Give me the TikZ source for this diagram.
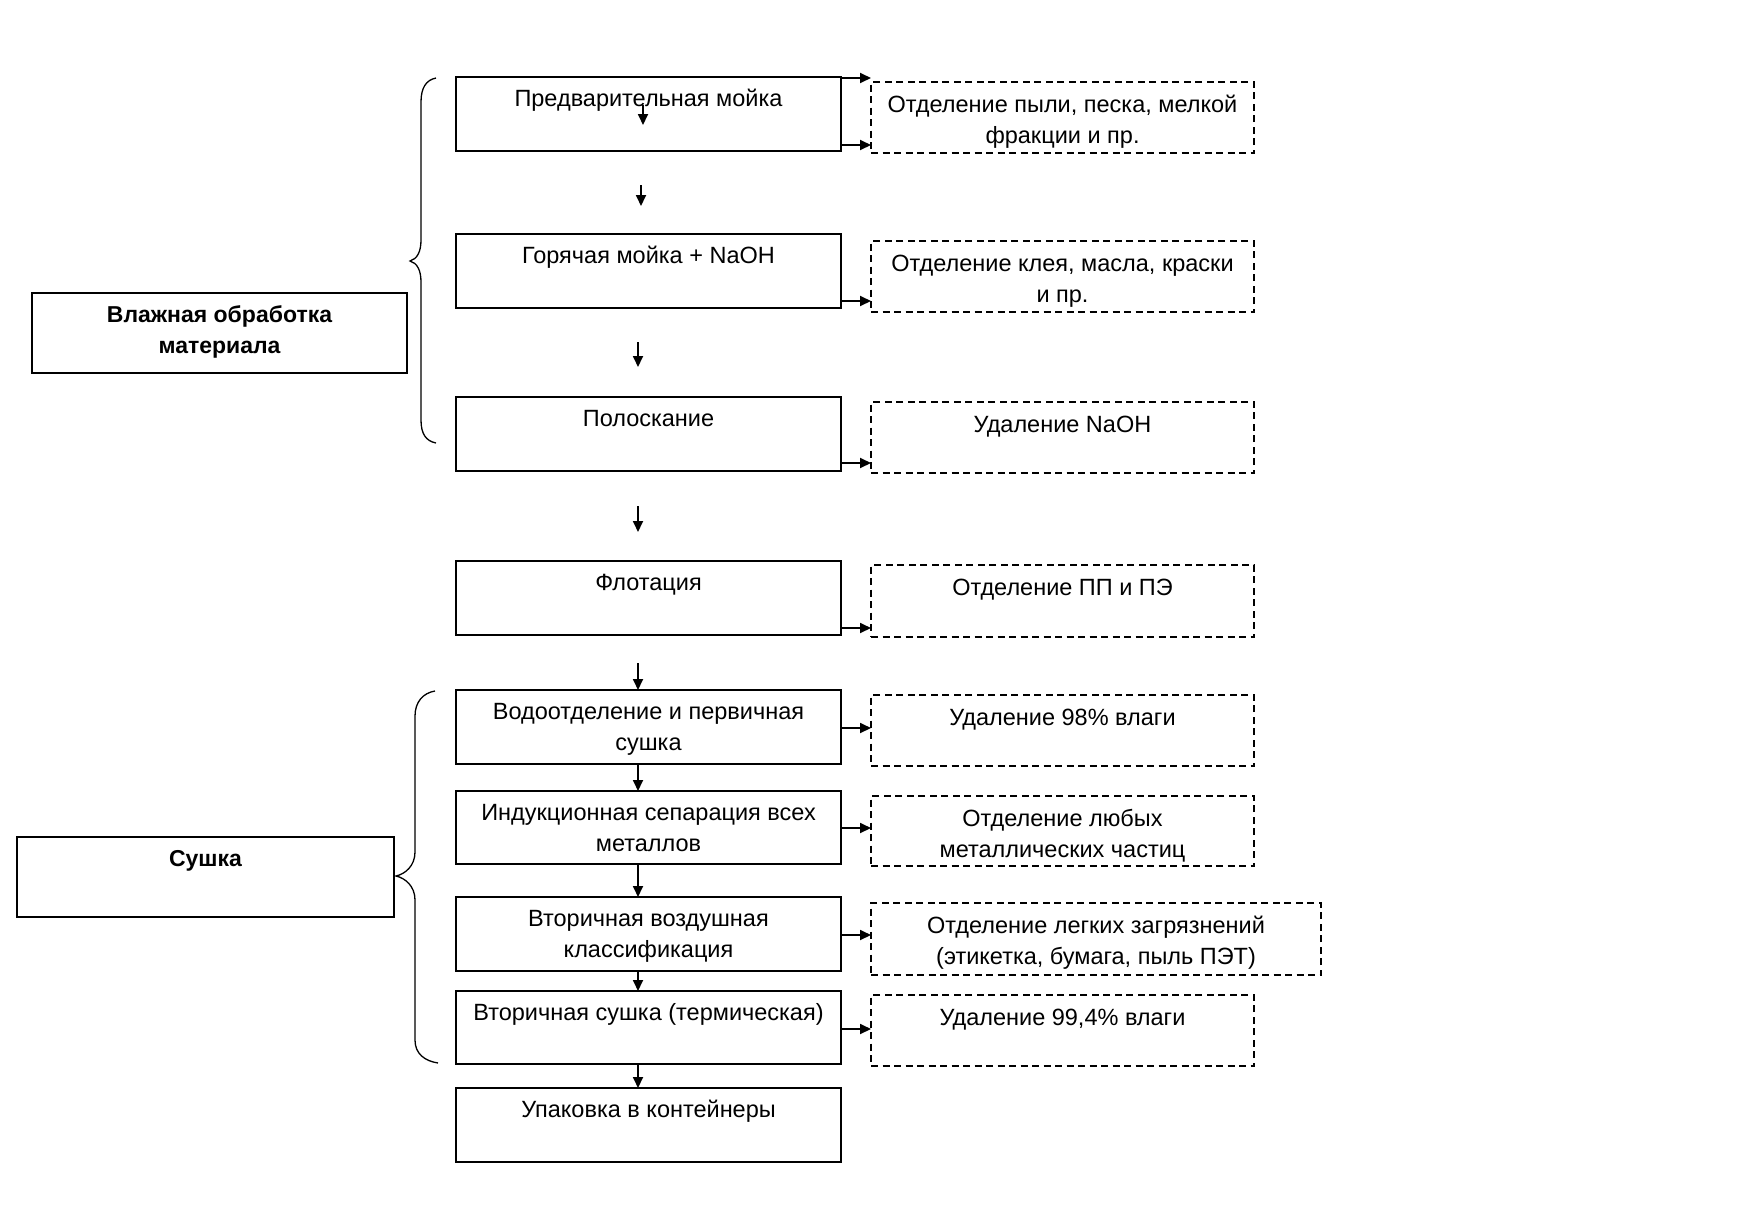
\documentclass[tikz,border=0pt]{standalone}
\usepackage{fontspec}
\setmainfont{Liberation Sans}
\usetikzlibrary{arrows.meta}
\newcommand\bxt[4]{\parbox[c][#2][t]{#1}{\centering\rule{0pt}{#3}#4}}
\begin{document}
\begin{tikzpicture}[x=1pt,y=-1pt,
  every node/.style={font=\fontsize{23.5pt}{31pt}\selectfont},
  mainbox/.style={draw, line width=1.8pt, inner sep=0pt, outer sep=0pt, anchor=north west},
  sidebox/.style={draw, line width=1.8pt, inner sep=0pt, outer sep=0pt, anchor=north west, font=\fontsize{23pt}{31pt}\selectfont\bfseries},
  dbox/.style={draw, line width=1.4pt, dash pattern=on 7pt off 4.5pt, inner sep=0pt, outer sep=0pt, anchor=north west},
  arr/.style={line width=1.8pt, -{Triangle[length=11pt,width=10pt]}},
  brc/.style={line width=1.3pt}]
\useasboundingbox (0,0) rectangle (1755,1218);
\fill[white] (0,0) rectangle (1755,1218);

% main column
\node[mainbox] (b1) at (456,77)   {\bxt{385pt}{74pt}{29pt}{Предварительная мойка}};
\node[mainbox] (b2) at (456,234)  {\bxt{385pt}{74pt}{29pt}{Горячая мойка + NaOH}};
\node[mainbox] (b3) at (456,397)  {\bxt{385pt}{74pt}{29pt}{Полоскание}};
\node[mainbox] (b4) at (456,561)  {\bxt{385pt}{74pt}{29pt}{Флотация}};
\node[mainbox] (b5) at (456,690)  {\bxt{385pt}{74pt}{29pt}{Водоотделение и первичная\\сушка}};
\node[mainbox] (b6) at (456,791)  {\bxt{385pt}{73pt}{29pt}{Индукционная сепарация всех\\металлов}};
\node[mainbox] (b7) at (456,897)  {\bxt{385pt}{74pt}{29pt}{Вторичная воздушная\\классификация}};
\node[mainbox] (b8) at (456,991)  {\bxt{385pt}{73pt}{29pt}{Вторичная сушка (термическая)}};
\node[mainbox] (b9) at (456,1088) {\bxt{385pt}{74pt}{29pt}{Упаковка в контейнеры}};

% dashed side boxes
\node[dbox] (d1) at (871,82)  {\bxt{383pt}{71pt}{30pt}{Отделение пыли, песка, мелкой\\фракции и пр.}};
\node[dbox] (d2) at (871,241) {\bxt{383pt}{71pt}{30pt}{Отделение клея, масла, краски\\и пр.}};
\node[dbox] (d3) at (871,402) {\bxt{383pt}{71pt}{30pt}{Удаление NaOH}};
\node[dbox] (d4) at (871,565) {\bxt{383pt}{72pt}{30pt}{Отделение ПП и ПЭ}};
\node[dbox] (d5) at (871,695) {\bxt{383pt}{71pt}{30pt}{Удаление 98\% влаги}};
\node[dbox] (d6) at (871,796) {\bxt{383pt}{70pt}{30pt}{Отделение любых\\металлических частиц}};
\node[dbox] (d7) at (871,903) {\bxt{450pt}{72pt}{30pt}{Отделение легких загрязнений\\(этикетка, бумага, пыль ПЭТ)}};
\node[dbox] (d8) at (871,995) {\bxt{383pt}{71pt}{30pt}{Удаление 99,4\% влаги}};

% left group boxes
\node[sidebox] (g1) at (32,293) {\bxt{375pt}{80pt}{29pt}{Влажная обработка\\материала}};
\node[sidebox] (g2) at (17,837) {\bxt{377pt}{80pt}{29pt}{Сушка}};

% braces
\draw[brc] (436,78) .. controls (426,80) and (421,88) .. (421,102) -- (421,240)
  .. controls (421,252) and (417,259) .. (410,261)
  .. controls (417,263) and (421,270) .. (421,282) -- (421,420)
  .. controls (421,434) and (426,441) .. (436,443);
\draw[brc] (435,691) .. controls (423,693) and (415,702) .. (415,716) -- (415,852)
  .. controls (415,866) and (405,874) .. (396,876)
  .. controls (405,878) and (415,886) .. (415,900) -- (415,1040)
  .. controls (415,1054) and (425,1061) .. (438,1063);

% free arrow ends
\coordinate (ax) at (638,0);
\coordinate (s0) at (643,105);
\coordinate (e0) at (643,125);
\coordinate (s1) at (641,185);
\coordinate (e1) at (641,206);
\coordinate (s2) at (638,342);
\coordinate (e2) at (638,367);
\coordinate (s3) at (638,506);
\coordinate (e3) at (638,532);
\coordinate (s4) at (638,663);

% vertical arrows
\draw[arr] (s0) -- (e0);
\draw[arr] (s1) -- (e1);
\draw[arr] (s2) -- (e2);
\draw[arr] (s3) -- (e3);
\draw[arr] (s4) -- (b5.north -| ax);
\draw[arr] (b5.south -| ax) -- (b6.north -| ax);
\draw[arr] (b6.south -| ax) -- (b7.north -| ax);
\draw[arr] (b7.south -| ax) -- (b8.north -| ax);
\draw[arr] (b8.south -| ax) -- (b9.north -| ax);

% horizontal arrows
\draw[arr] (b1.east |- 0,78)   -- (d1.west |- 0,78);
\draw[arr] (b1.east |- 0,145)  -- (d1.west |- 0,145);
\draw[arr] (b2.east |- 0,301)  -- (d2.west |- 0,301);
\draw[arr] (b3.east |- 0,463)  -- (d3.west |- 0,463);
\draw[arr] (b4.east |- 0,628)  -- (d4.west |- 0,628);
\draw[arr] (b5.east |- 0,728)  -- (d5.west |- 0,728);
\draw[arr] (b6.east |- 0,828)  -- (d6.west |- 0,828);
\draw[arr] (b7.east |- 0,935)  -- (d7.west |- 0,935);
\draw[arr] (b8.east |- 0,1029) -- (d8.west |- 0,1029);
\end{tikzpicture}
\end{document}
